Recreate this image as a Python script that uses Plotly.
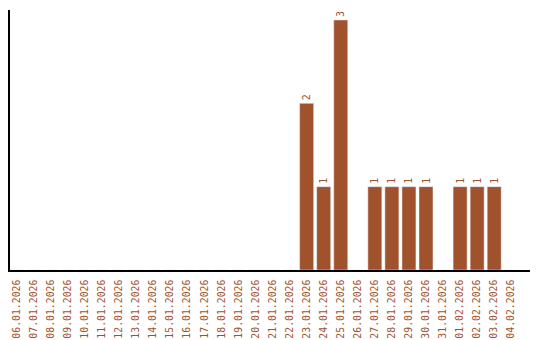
import plotly.graph_objects as go

dates = ["06.01.2026", "07.01.2026", "08.01.2026", "09.01.2026", "10.01.2026",
         "11.01.2026", "12.01.2026", "13.01.2026", "14.01.2026", "15.01.2026",
         "16.01.2026", "17.01.2026", "18.01.2026", "19.01.2026", "20.01.2026",
         "21.01.2026", "22.01.2026", "23.01.2026", "24.01.2026", "25.01.2026",
         "26.01.2026", "27.01.2026", "28.01.2026", "29.01.2026", "30.01.2026",
         "31.01.2026", "01.02.2026", "02.02.2026", "03.02.2026", "04.02.2026"]
counts = [0, 0, 0, 0, 0, 0, 0, 0, 0, 0, 0, 0, 0, 0, 0, 0, 0,
          2, 1, 3, 0, 1, 1, 1, 1, 0, 1, 1, 1, 0]

color = "#A0522D"
fnt = "DejaVu Sans Mono"

fig = go.Figure(go.Bar(
    x=dates, y=counts,
    marker_color=color,
    text=[str(c) if c else "" for c in counts],
    textposition="outside",
    textangle=-90,
    textfont=dict(family=fnt, size=10, color=color),
    outsidetextfont=dict(family=fnt, size=10, color=color),
    cliponaxis=False,
))

fig.update_layout(
    width=540, height=340,
    margin=dict(l=10, r=10, t=10, b=70),
    paper_bgcolor="white", plot_bgcolor="white",
    bargap=0.18,
    showlegend=False,
)
fig.update_xaxes(
    type="category", range=[-0.4, 30.1], automargin=False,
    showline=True, linecolor="black", linewidth=1.5,
    showgrid=False, ticks="", tickangle=-90,
    ticklabelstandoff=4,
    tickfont=dict(family=fnt, size=9.8, color=color),
)
fig.update_yaxes(
    range=[0, 3.12], automargin=False,
    showline=True, linecolor="black", linewidth=1.5,
    showgrid=False, zeroline=False, showticklabels=False, ticks="",
)

fig.write_html("out.html")
